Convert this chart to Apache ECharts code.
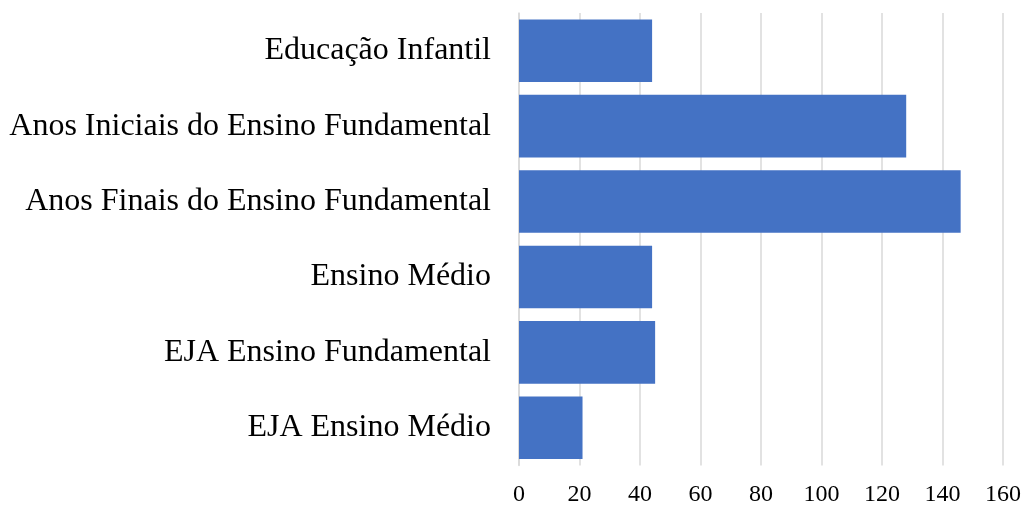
<!DOCTYPE html>
<html>
<head>
<meta charset="utf-8">
<script src="https://cdn.jsdelivr.net/npm/echarts@6/dist/echarts.min.js"></script>
<style>
  html, body { margin: 0; padding: 0; background: #ffffff; }
  #chart { width: 1024px; height: 505px; }
</style>
</head>
<body>
<div id="chart"></div>
<script>
// Enrolment counts by stage of education
const categories = [
  'Educação Infantil',
  'Anos Iniciais do Ensino Fundamental',
  'Anos Finais do Ensino Fundamental',
  'Ensino Médio',
  'EJA Ensino Fundamental',
  'EJA Ensino Médio'
];
const values = [44, 128, 146, 44, 45, 21];
const xTicks = [0, 20, 40, 60, 80, 100, 120, 140, 160];

const chart = echarts.init(document.getElementById('chart'), null, { renderer: 'canvas' });
const serif = '"Liberation Serif", "Times New Roman", serif';

chart.setOption({
  backgroundColor: '#ffffff',
  animation: false,
  grid: {
    left: 519, right: 21, top: 13, bottom: 39.5,
    containLabel: false,
    outerBoundsMode: 'none'
  },
  xAxis: {
    type: 'value',
    min: xTicks[0],
    max: xTicks[xTicks.length - 1],
    interval: xTicks[1] - xTicks[0],
    axisLine: { show: false },
    axisTick: { show: false },
    splitLine: { show: true, lineStyle: { color: '#d9d9d9', width: 1.5 } },
    axisLabel: { color: '#000000', fontFamily: serif, fontSize: 24, margin: 17 }
  },
  yAxis: {
    type: 'category',
    data: categories,
    inverse: true,
    axisLine: { show: true, lineStyle: { color: '#d9d9d9', width: 1.5 } },
    axisTick: { show: false },
    axisLabel: { color: '#000000', fontFamily: serif, fontSize: 32, margin: 28 }
  },
  series: [{
    type: 'bar',
    data: values,
    barCategoryGap: '17%',
    itemStyle: { color: '#4472c4' }
  }]
});
</script>
</body>
</html>
